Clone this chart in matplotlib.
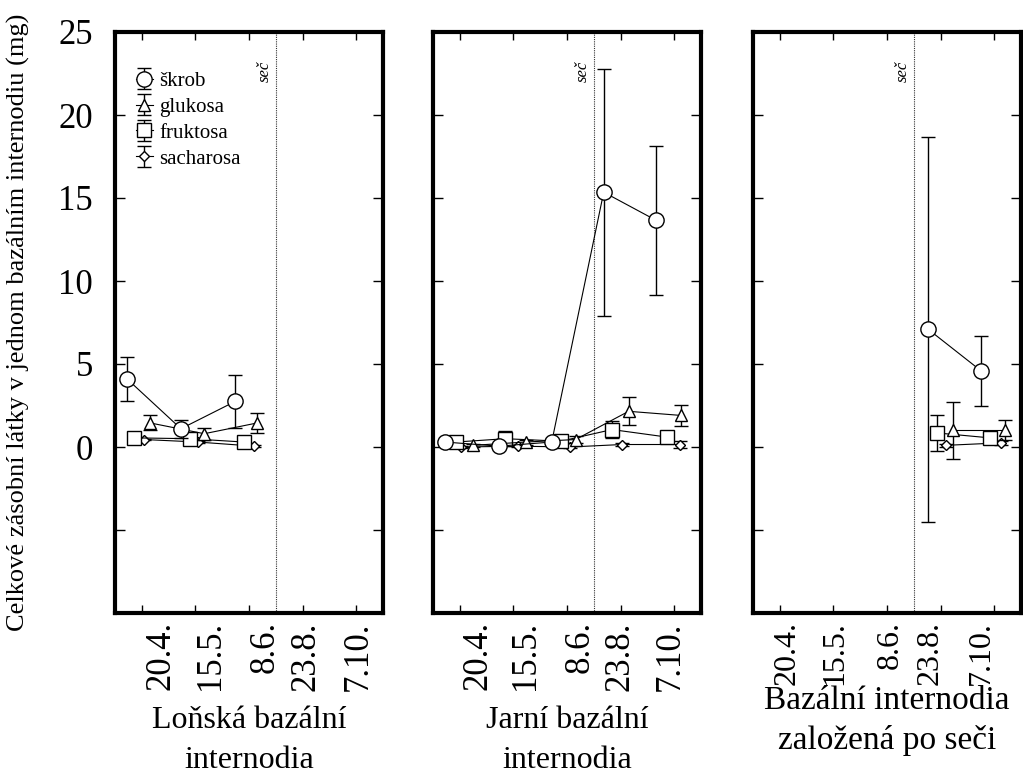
import matplotlib
matplotlib.use('Agg')
import matplotlib.pyplot as plt

# series names (legend order) and marker styles
series_names = ['škrob', 'glukosa', 'fruktosa', 'sacharosa']
series_markers = ['o', '^', 's', 'D']
series_sizes = [11, 9, 10, 5.5]

date_labels = ['20.4.', '15.5.', '8.6.', '23.8.', '7.10.']
panel_titles = ['Loňská bazální\ninternodia', 'Jarní bazální\ninternodia',
                'Bazální internodia\nzaložená po seči']
y_label = 'Celkové zásobní látky v jednom bazálním internodiu (mg)'
cut_label = 'seč'
cut_x = 6.0

# panel 1 - Loňská bazální internodia
p1_skrob_x = [0.45, 2.46, 4.49]
p1_skrob_y = [4.1, 1.1, 2.75]
p1_skrob_err = [1.3, 0.55, 1.6]
p1_glukosa_x = [1.31, 3.33, 5.31]
p1_glukosa_y = [1.45, 0.8, 1.45]
p1_glukosa_err = [0.45, 0.35, 0.6]
p1_fruktosa_x = [0.71, 2.78, 4.8]
p1_fruktosa_y = [0.55, 0.5, 0.3]
p1_fruktosa_err = [0.1, 0.1, 0.1]
p1_sacharosa_x = [1.09, 3.08, 5.2]
p1_sacharosa_y = [0.45, 0.3, 0.05]
p1_sacharosa_err = [0.05, 0.05, 0.05]

# panel 2 - Jarní bazální internodia
p2_skrob_x = [0.44, 2.46, 4.43, 6.37, 8.33]
p2_skrob_y = [0.3, 0.05, 0.3, 15.35, 13.65]
p2_skrob_err = [0.1, 0.1, 0.2, 7.45, 4.5]
p2_glukosa_x = [1.48, 3.48, 5.32, 7.3, 9.27]
p2_glukosa_y = [0.1, 0.3, 0.45, 2.15, 1.9]
p2_glukosa_err = [0.1, 0.15, 0.2, 0.85, 0.65]
p2_fruktosa_x = [0.86, 2.7, 4.77, 6.68, 8.72]
p2_fruktosa_y = [0.3, 0.5, 0.35, 1.05, 0.6]
p2_fruktosa_err = [0.1, 0.45, 0.35, 0.5, 0.1]
p2_sacharosa_x = [1.06, 3.19, 5.12, 7.05, 9.2]
p2_sacharosa_y = [0.0, 0.05, 0.0, 0.15, 0.15]
p2_sacharosa_err = [0.05, 0.05, 0.05, 0.1, 0.2]

# panel 3 - Bazální internodia založená po seči
p3_skrob_x = [6.53, 8.5]
p3_skrob_y = [7.1, 4.6]
p3_skrob_err = [11.6, 2.1]
p3_glukosa_x = [7.45, 9.4]
p3_glukosa_y = [1.0, 1.0]
p3_glukosa_err = [1.7, 0.6]
p3_fruktosa_x = [6.85, 8.84]
p3_fruktosa_y = [0.85, 0.55]
p3_fruktosa_err = [1.1, 0.1]
p3_sacharosa_x = [7.2, 9.24]
p3_sacharosa_y = [0.1, 0.25]
p3_sacharosa_err = [0.1, 0.1]


def main():
    plt.rcParams['font.family'] = ['Liberation Serif', 'DejaVu Serif']

    panels = [
        [(p1_skrob_x, p1_skrob_y, p1_skrob_err), (p1_glukosa_x, p1_glukosa_y, p1_glukosa_err),
         (p1_fruktosa_x, p1_fruktosa_y, p1_fruktosa_err), (p1_sacharosa_x, p1_sacharosa_y, p1_sacharosa_err)],
        [(p2_skrob_x, p2_skrob_y, p2_skrob_err), (p2_glukosa_x, p2_glukosa_y, p2_glukosa_err),
         (p2_fruktosa_x, p2_fruktosa_y, p2_fruktosa_err), (p2_sacharosa_x, p2_sacharosa_y, p2_sacharosa_err)],
        [(p3_skrob_x, p3_skrob_y, p3_skrob_err), (p3_glukosa_x, p3_glukosa_y, p3_glukosa_err),
         (p3_fruktosa_x, p3_fruktosa_y, p3_fruktosa_err), (p3_sacharosa_x, p3_sacharosa_y, p3_sacharosa_err)],
    ]
    # where the rotated date labels sit in each panel
    label_pos = [[1.72, 3.56, 5.62, 7.12, 9.06],
                 [1.68, 3.47, 5.5, 6.99, 8.84],
                 [1.26, 3.06, 5.11, 6.6, 8.53]]

    W, H = 1023, 780
    fig = plt.figure(figsize=(W / 100, H / 100), dpi=100)
    lefts = [115, 433, 753]
    title_y = [[720, 761], [720, 761], [701, 741]]
    title_size = [23, 23, 24]

    for i, data in enumerate(panels):
        ax = fig.add_axes([lefts[i] / W, 167 / H, 268 / W, 581 / H])
        ax.set_xlim(0, 10)
        ax.set_ylim(-10, 25)

        handles = []
        # draw sucrose first so starch circles sit on top
        for k in [3, 2, 1, 0]:
            x, y, e = data[k]
            h = ax.errorbar(x, y, yerr=e, fmt='-', marker=series_markers[k],
                            ms=series_sizes[k], mfc='white', mec='black', mew=1,
                            color='black', lw=0.8, elinewidth=1,
                            capsize=5, capthick=2.5, zorder=3 + (3 - k))
            handles.append(h)
        handles = handles[::-1]

        # cut line (seč)
        ax.axvline(cut_x, color='#333333', lw=0.8, ls=(0, (1, 1)), zorder=1)
        ax.text(cut_x - 0.12, 22.6, cut_label, rotation=90, ha='right', va='center',
                fontsize=12, style='italic')

        for s in ax.spines.values():
            s.set_linewidth(3)

        ax.set_yticks(range(-10, 30, 5))
        if i == 0:
            ax.set_yticklabels(['', ''] + [str(v) for v in range(0, 30, 5)])
        else:
            ax.set_yticklabels([])
        ax.tick_params(axis='y', direction='in', length=7, width=1,
                       left=True, right=True, labelsize=25, pad=16)

        ax.set_xticks([1, 3, 5, 7, 9], minor=True)
        ax.set_xticks(label_pos[i])
        ax.set_xticklabels(date_labels, rotation=90, va='center', ha='right',
                           rotation_mode='anchor')
        ax.tick_params(axis='x', which='major', length=0,
                       labelsize=23 if i == 2 else 25, pad=6)
        ax.tick_params(axis='x', which='minor', direction='in', length=6, width=1,
                       top=True, bottom=True)

        cx = (lefts[i] + 134) / W
        for j, line in enumerate(panel_titles[i].split('\n')):
            fig.text(cx, 1 - title_y[i][j] / H, line, ha='center', va='center',
                     fontsize=title_size[i])

        if i == 0:
            ax.legend(handles, series_names, loc='upper left', bbox_to_anchor=(0.04, 0.95),
                      frameon=False, fontsize=15, handlelength=0.8, handletextpad=0.3,
                      labelspacing=0.3, borderpad=0)

    fig.text(18 / W, 1 - 322 / H, y_label, rotation=90, ha='center', va='center', fontsize=19)

    plt.savefig('out.png', dpi=100)


if __name__ == '__main__':
    main()
